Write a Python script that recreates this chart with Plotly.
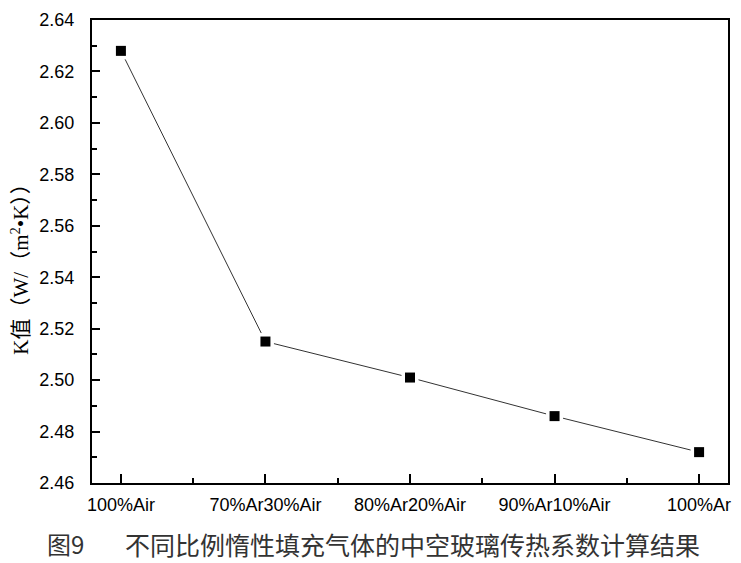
import plotly.graph_objects as go

# 填充气体比例 与 K值计算结果
categories = ["100%Air", "70%Ar30%Air", "80%Ar20%Air", "90%Ar10%Air", "100%Ar"]
k_values = [2.628, 2.515, 2.501, 2.486, 2.472]
y_ticks = [2.46, 2.48, 2.50, 2.52, 2.54, 2.56, 2.58, 2.60, 2.62, 2.64]

x_pos = list(range(len(categories)))

fig = go.Figure()

# 连线
fig.add_trace(go.Scatter(x=x_pos, y=k_values, mode="lines",
                         line=dict(color="#333333", width=1), hoverinfo="skip"))
# 白色底块，让连线在方块前断开 (Origin 风格)
fig.add_trace(go.Scatter(x=x_pos, y=k_values, mode="markers",
                         marker=dict(symbol="square", size=17, color="white", line=dict(width=0)),
                         hoverinfo="skip"))
# 数据点
fig.add_trace(go.Scatter(x=x_pos, y=k_values, mode="markers",
                         marker=dict(symbol="square", size=10, color="black", line=dict(width=0))))

axis_font = dict(family="Liberation Sans, Arial", size=18, color="black")

fig.update_layout(
    width=741, height=563,
    margin=dict(l=92, r=10, t=13, b=80),
    paper_bgcolor="white", plot_bgcolor="white",
    showlegend=False,
    xaxis=dict(
        range=[-0.2, 4.2],
        tickmode="array", tickvals=x_pos, ticktext=categories,
        ticks="inside", ticklen=9, tickwidth=1.5, tickcolor="black",
        minor=dict(ticks="inside", ticklen=5, tickwidth=1.5, tickcolor="black", tick0=0.5, dtick=1),
        showline=True, linecolor="black", linewidth=2, mirror=True,
        showgrid=False, zeroline=False,
        tickfont=axis_font, ticklabelstandoff=4,
    ),
    yaxis=dict(
        range=[2.46, 2.64],
        tickmode="array", tickvals=y_ticks, ticktext=[f"{v:.2f}" for v in y_ticks],
        ticks="inside", ticklen=8, tickwidth=1.5, tickcolor="black",
        minor=dict(ticks="inside", ticklen=5, tickwidth=1.5, tickcolor="black", tick0=2.47, dtick=0.02),
        showline=True, linecolor="black", linewidth=2, mirror=True,
        showgrid=False, zeroline=False,
        tickfont=axis_font, ticklabelstandoff=12,
    ),
    annotations=[
        dict(text="K值（W/（m<sup>2</sup>•K））", xref="paper", yref="paper",
             x=-0.113, y=0.474, textangle=-90, showarrow=False,
             xanchor="center", yanchor="middle",
             font=dict(family="Liberation Serif, Noto Sans CJK SC", size=21, color="black")),
        dict(text="图9", xref="paper", yref="paper", x=-0.074, y=-0.131,
             xanchor="left", yanchor="middle", showarrow=False,
             font=dict(family="Noto Sans CJK SC", size=24, color="#333333")),
        dict(text="不同比例惰性填充气体的中空玻璃传热系数计算结果", xref="paper", yref="paper",
             x=0.048, y=-0.131, xanchor="left", yanchor="middle", showarrow=False,
             font=dict(family="Noto Sans CJK SC", size=25, color="#333333")),
    ],
)

# 去掉页面默认边距，保证图表与窗口对齐
fig.write_html("out.html", config={"displayModeBar": False},
               post_script="document.body.style.margin='0';")
